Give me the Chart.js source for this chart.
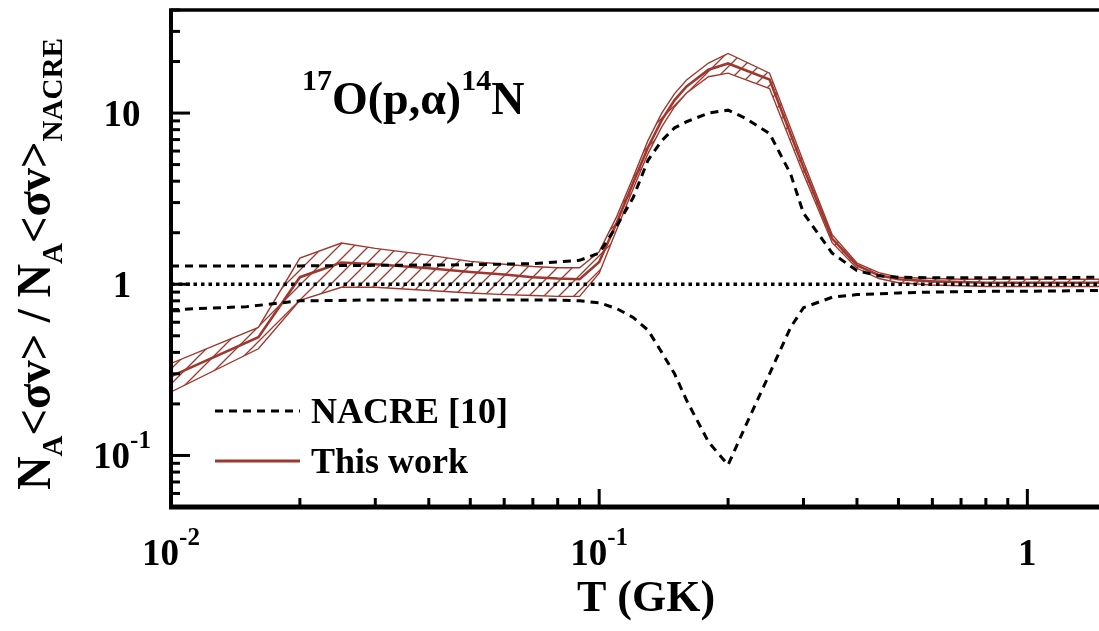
<!DOCTYPE html>
<html>
<head>
<meta charset="utf-8">
<script src="https://cdn.jsdelivr.net/npm/chart.js@4/dist/chart.umd.min.js"></script>
<style>
html, body { margin: 0; padding: 0; background: #fff; }
#wrap { width: 1099px; height: 631px; position: relative; }
</style>
</head>
<body>
<div id="wrap"><canvas id="rateChart"></canvas></div>
<script>
// this work: temperature grid (GK) and ratio to NACRE
const tWork = [0.01, 0.016, 0.02, 0.025, 0.03, 0.04, 0.05, 0.06, 0.07, 0.08, 0.09, 0.1, 0.11, 0.12, 0.13, 0.14, 0.15, 0.16, 0.18, 0.2, 0.25, 0.3, 0.35, 0.4, 0.45, 0.5, 0.6, 0.7, 0.8, 0.9, 1.0, 1.25, 1.5];
const workUpper = [0.345, 0.56, 1.42, 1.74, 1.62, 1.48, 1.36, 1.31, 1.27, 1.25, 1.25, 1.55, 2.5, 4.2, 6.9, 10.0, 13.0, 15.6, 19.6, 22.3, 17.1, 5.2, 1.95, 1.33, 1.17, 1.10, 1.08, 1.07, 1.07, 1.07, 1.07, 1.07, 1.07];
const workCentral = [0.29, 0.49, 1.1, 1.34, 1.31, 1.24, 1.18, 1.14, 1.10, 1.08, 1.07, 1.35, 2.3, 3.9, 6.3, 9.1, 11.9, 14.3, 17.9, 19.5, 15.7, 4.8, 1.85, 1.29, 1.13, 1.07, 1.04, 1.03, 1.02, 1.02, 1.02, 1.02, 1.02];
const workLower = [0.235, 0.42, 0.805, 0.96, 0.96, 0.92, 0.89, 0.87, 0.86, 0.85, 0.85, 1.16, 2.1, 3.6, 5.8, 8.3, 10.9, 13.1, 16.3, 17.1, 13.9, 4.4, 1.75, 1.24, 1.08, 1.02, 0.99, 0.98, 0.97, 0.97, 0.97, 0.97, 0.97];

// NACRE limits relative to NACRE recommended
const tNacre = [0.01, 0.015, 0.02, 0.03, 0.05, 0.07, 0.08, 0.09, 0.1, 0.11, 0.12, 0.13, 0.14, 0.15, 0.16, 0.18, 0.2, 0.22, 0.25, 0.28, 0.3, 0.35, 0.4, 0.45, 0.5, 0.6, 0.8, 1.0, 1.5];
const nacreUpper = [1.28, 1.28, 1.28, 1.29, 1.30, 1.32, 1.35, 1.38, 1.52, 2.2, 3.2, 5.3, 6.9, 8.2, 8.9, 10.0, 10.4, 9.3, 7.6, 4.4, 2.6, 1.52, 1.2, 1.12, 1.1, 1.09, 1.09, 1.09, 1.1];
const nacreLower = [0.71, 0.74, 0.80, 0.81, 0.81, 0.81, 0.81, 0.80, 0.78, 0.72, 0.64, 0.54, 0.4, 0.3, 0.21, 0.12, 0.088, 0.15, 0.3, 0.56, 0.73, 0.84, 0.87, 0.88, 0.89, 0.9, 0.91, 0.91, 0.92];
const tRecommended = [0.01, 1.5];
const nacreRecommended = [1, 1];

const xTicks = [0.01, 0.1, 1];
const xTickLabels = [["10", "-2"], ["10", "-1"], ["1", ""]];
const yTicks = [10, 1, 0.1];
const yTickLabels = [["10", ""], ["1", ""], ["10", "-1"]];
const legendLabels = ["NACRE [10]", "This work"];

const red = "rgb(158,56,46)";
const serif = '"Liberation Serif", "Times New Roman", serif';

function pts(xs, ys) {
  return xs.map((x, i) => ({ x: x, y: ys[i] }));
}

function makeHatch(color) {
  const s = 15;
  const c = document.createElement("canvas");
  c.width = s; c.height = s;
  const g = c.getContext("2d");
  g.strokeStyle = color;
  g.lineWidth = 1.3;
  g.beginPath();
  g.moveTo(0, s); g.lineTo(s, 0);
  g.moveTo(-s / 2, s / 2); g.lineTo(s / 2, -s / 2);
  g.moveTo(s / 2, s * 1.5); g.lineTo(s * 1.5, s / 2);
  g.stroke();
  return g.createPattern(c, "repeat");
}

// draw pieces of text with super/subscripts, left to right
function drawParts(ctx, parts, x, y) {
  let cx = x;
  parts.forEach(p => {
    ctx.font = "bold " + p.size + "px " + serif;
    ctx.fillText(p.t, cx, y + (p.dy || 0));
    cx += ctx.measureText(p.t).width;
  });
  return cx - x;
}
function partsWidth(ctx, parts) {
  let w = 0;
  parts.forEach(p => {
    ctx.font = "bold " + p.size + "px " + serif;
    w += ctx.measureText(p.t).width;
  });
  return w;
}

const frame = {
  id: "frame",
  afterDraw(chart) {
    const { ctx, chartArea: a, scales: { x, y } } = chart;
    ctx.save();
    ctx.strokeStyle = "#000";
    ctx.fillStyle = "#000";
    ctx.lineCap = "butt";

    // box (right side is cut off in the figure)
    ctx.lineWidth = 3.5;
    ctx.beginPath(); ctx.moveTo(a.left - 2, a.top); ctx.lineTo(a.right, a.top); ctx.stroke();
    ctx.lineWidth = 4;
    ctx.beginPath(); ctx.moveTo(a.left, a.top); ctx.lineTo(a.left, a.bottom + 2); ctx.stroke();
    ctx.lineWidth = 5;
    ctx.beginPath(); ctx.moveTo(a.left - 2, a.bottom); ctx.lineTo(a.right, a.bottom); ctx.stroke();

    // ticks, pointing inward
    ctx.lineWidth = 3;
    for (let n = -2; n <= 0; n++) {
      for (let k = 1; k <= 9; k++) {
        const v = k * Math.pow(10, n);
        if (v < x.min || v > x.max) continue;
        const px = x.getPixelForValue(v);
        const len = k === 1 ? 18 : 9;
        ctx.beginPath(); ctx.moveTo(px, a.bottom); ctx.lineTo(px, a.bottom - len); ctx.stroke();
      }
    }
    for (let n = -2; n <= 1; n++) {
      for (let k = 1; k <= 9; k++) {
        const v = k * Math.pow(10, n);
        if (v < y.min || v > y.max) continue;
        const py = y.getPixelForValue(v);
        const len = k === 1 ? 19 : 9;
        ctx.beginPath(); ctx.moveTo(a.left, py); ctx.lineTo(a.left + len, py); ctx.stroke();
      }
    }

    // tick labels
    ctx.textAlign = "left";
    ctx.textBaseline = "alphabetic";
    xTicks.forEach((v, i) => {
      const parts = [{ t: xTickLabels[i][0], size: 37 }, { t: xTickLabels[i][1], size: 25, dy: -20 }];
      const w = partsWidth(ctx, parts);
      drawParts(ctx, parts, x.getPixelForValue(v) - w / 2, 565);
    });
    yTicks.forEach((v, i) => {
      const parts = [{ t: yTickLabels[i][0], size: 37 }, { t: yTickLabels[i][1], size: 25, dy: -20 }];
      const w = partsWidth(ctx, parts);
      drawParts(ctx, parts, 122 - w / 2, y.getPixelForValue(v) + 13);
    });

    // axis titles
    const xt = [{ t: "T (GK)", size: 44 }];
    drawParts(ctx, xt, 646 - partsWidth(ctx, xt) / 2, 611);

    const yt = [
      { t: "N", size: 48 }, { t: "A", size: 30, dy: 12 },
      { t: "<σv> / N", size: 48 }, { t: "A", size: 30, dy: 12 },
      { t: "<σv>", size: 48 }, { t: "NACRE", size: 30, dy: 12 }
    ];
    const ytw = partsWidth(ctx, yt);
    const sx = 452 / ytw;
    ctx.save();
    ctx.translate(50, 264);
    ctx.rotate(-Math.PI / 2);
    ctx.scale(sx, 1);
    drawParts(ctx, yt, -ytw / 2, 0);
    ctx.restore();

    // reaction label
    drawParts(ctx, [
      { t: "17", size: 30, dy: -24 }, { t: "O(p,α)", size: 46 },
      { t: "14", size: 30, dy: -24 }, { t: "N", size: 46 }
    ], 302, 114);

    // legend
    ctx.lineWidth = 3;
    ctx.setLineDash([8, 6]);
    ctx.beginPath(); ctx.moveTo(215, 411); ctx.lineTo(300, 411); ctx.stroke();
    ctx.setLineDash([]);
    ctx.strokeStyle = red;
    ctx.beginPath(); ctx.moveTo(215, 461); ctx.lineTo(300, 461); ctx.stroke();
    ctx.font = "bold 36px " + serif;
    ctx.fillText(legendLabels[0], 311, 423);
    ctx.fillText(legendLabels[1], 311, 473);
    ctx.restore();
  }
};

const hatch = makeHatch(red);

new Chart(document.getElementById("rateChart"), {
  type: "line",
  data: {
    datasets: [
      { label: "NACRE recommended", data: pts(tRecommended, nacreRecommended), borderColor: "#000", borderWidth: 3.5, borderDash: [3.5, 4], pointRadius: 0, fill: false },
      { label: "NACRE upper", data: pts(tNacre, nacreUpper), borderColor: "#000", borderWidth: 3, borderDash: [8, 6], pointRadius: 0, fill: false },
      { label: "NACRE lower", data: pts(tNacre, nacreLower), borderColor: "#000", borderWidth: 3, borderDash: [8, 6], pointRadius: 0, fill: false },
      { label: "This work upper", data: pts(tWork, workUpper), borderColor: red, borderWidth: 1.4, pointRadius: 0, fill: "+1", backgroundColor: hatch },
      { label: "This work lower", data: pts(tWork, workLower), borderColor: red, borderWidth: 1.4, pointRadius: 0, fill: false },
      { label: "This work", data: pts(tWork, workCentral), borderColor: red, borderWidth: 2.6, pointRadius: 0, fill: false }
    ]
  },
  options: {
    responsive: true,
    maintainAspectRatio: false,
    animation: false,
    layout: { padding: { left: 171, right: 0, top: 10, bottom: 124 } },
    scales: {
      x: { type: "logarithmic", min: 0.01, max: 1.47, display: false },
      y: { type: "logarithmic", min: 0.05, max: 40, display: false }
    },
    plugins: { legend: { display: false }, tooltip: { enabled: false } }
  },
  plugins: [frame]
});
</script>
</body>
</html>
